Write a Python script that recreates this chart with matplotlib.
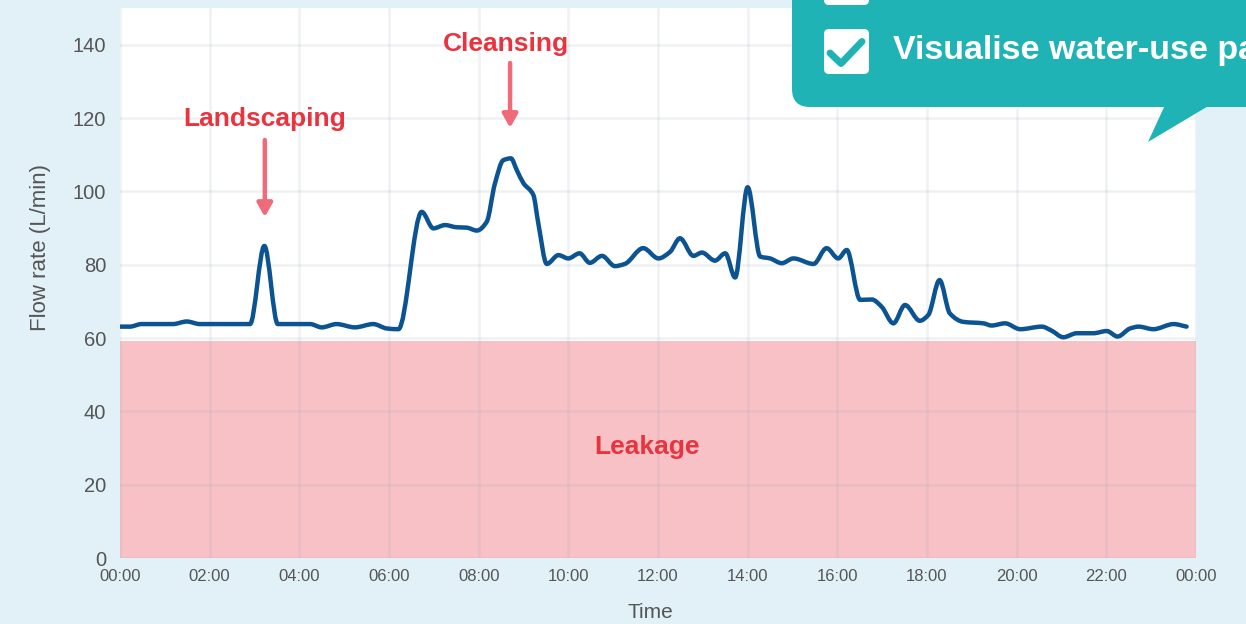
import matplotlib
matplotlib.use("Agg")
import matplotlib.pyplot as plt
from matplotlib.patches import FancyBboxPatch, Polygon, PathPatch
from matplotlib.path import Path

# flow readings over one day (hours, L/min)
hours = [0.00, 0.22, 0.48, 1.18, 1.49, 1.78, 2.90, 3.22, 3.52,
         4.24, 4.50, 4.83, 5.24, 5.65, 5.95, 6.21, 6.73, 6.99, 7.25,
         7.51, 7.73, 7.96, 8.18, 8.36, 8.55, 8.72, 8.85, 9.00, 9.22, 9.33,
         9.52, 9.78, 10.00, 10.25, 10.48, 10.75, 11.04, 11.26, 11.67, 12.01,
         12.27, 12.49, 12.79, 12.98, 13.27, 13.50, 13.72, 14.00,
         14.28, 14.50, 14.76, 15.02, 15.47, 15.76, 16.02, 16.21,
         16.51, 16.77, 16.99, 17.25, 17.51, 17.84, 18.03, 18.28, 18.51,
         18.81, 19.26, 19.44, 19.74, 20.08, 20.56, 20.78, 21.04, 21.34,
         21.71, 22.01, 22.25, 22.53, 22.72, 23.05, 23.50, 23.79]
flow = [63.1, 63.1, 63.8, 63.8, 64.5, 63.8, 63.8, 85.1, 63.8,
        63.8, 62.9, 63.8, 62.9, 63.8, 62.6, 62.4, 94.4, 89.9, 90.8,
        90.2, 90.1, 89.3, 91.7, 102.0, 108.5, 109.0, 105.8, 102.2, 99.0,
        91.3, 80.2, 82.6, 81.7, 83.1, 80.5, 82.4, 79.6, 80.2, 84.5, 81.7,
        83.5, 87.2, 82.4, 83.3, 81.1, 83.1, 76.5, 101.1, 82.2,
        81.7, 80.4, 81.7, 80.2, 84.5, 81.7, 84.0, 70.4, 70.5, 68.5, 64.0,
        69.0, 64.7, 66.3, 75.8, 66.7, 64.4, 64.0, 63.4, 64.0, 62.4, 63.1,
        62.0, 60.2, 61.3, 61.3, 61.9, 60.4, 62.6, 63.1, 62.4, 63.8, 63.1]

leak_level = 59.3
y_ticks = [0, 20, 40, 60, 80, 100, 120, 140]
x_ticks = list(range(0, 25, 2))
x_labels = [f"{h % 24:02d}:00" for h in x_ticks]

# annotations: (label, text x, text y, arrow x, arrow tail y, arrow tip y)
events = [("Landscaping", 3.23, 119.7, 3.23, 114.0, 93.0),
          ("Cleansing", 8.61, 140.2, 8.70, 135.0, 117.3)]

BG = "#e2f1f7"
TEAL = "#20b3b5"
LINE = "#0b5391"
PINK = "#f7c1c6"
RED = "#e8343e"
ARROW = "#f06b79"


def smooth_path(xs, ys):
    # monotone cubic bezier through every reading (no overshoot, no loops)
    n = len(xs)
    d = [(ys[i + 1] - ys[i]) / (xs[i + 1] - xs[i]) for i in range(n - 1)]
    m = [d[0]] + [0.0] * (n - 2) + [d[-1]]
    for i in range(1, n - 1):
        if d[i - 1] * d[i] > 0:
            w1 = 2 * (xs[i + 1] - xs[i]) + (xs[i] - xs[i - 1])
            w2 = (xs[i + 1] - xs[i]) + 2 * (xs[i] - xs[i - 1])
            m[i] = (w1 + w2) / (w1 / d[i - 1] + w2 / d[i])
    verts = [(xs[0], ys[0])]
    codes = [Path.MOVETO]
    for i in range(n - 1):
        h = (xs[i + 1] - xs[i]) / 3
        verts += [(xs[i] + h, ys[i] + m[i] * h),
                  (xs[i + 1] - h, ys[i + 1] - m[i + 1] * h),
                  (xs[i + 1], ys[i + 1])]
        codes += [Path.CURVE4] * 3
    return Path(verts, codes)


plt.rcParams["font.family"] = ["Liberation Sans", "DejaVu Sans"]

fig = plt.figure(figsize=(12.46, 6.24), dpi=100, facecolor=BG)
ax = fig.add_axes([120 / 1246, 1 - 558 / 624, 1076 / 1246, 550 / 624])
ax.set_facecolor("white")

ax.axhspan(0, leak_level, color=PINK, zorder=0.2, lw=0)
ax.add_patch(PathPatch(smooth_path(hours, flow), fc="none", ec=LINE, lw=3.2,
                       joinstyle="round", capstyle="round", zorder=3))

ax.set_xlim(0, 24)
ax.set_ylim(0, 150)
ax.set_xticks(x_ticks)
ax.set_xticklabels(x_labels, fontsize=12,
                   family=["Liberation Sans Narrow", "Liberation Sans"])
ax.set_yticks(y_ticks)
ax.set_yticklabels([str(v) for v in y_ticks], fontsize=14.5)
ax.tick_params(length=0, colors="#555555")
ax.tick_params(axis="x", pad=8)
ax.tick_params(axis="y", pad=10)
ax.set_axisbelow(True)
ax.grid(True, color="#99a6b3", alpha=0.15, lw=1.8)
for s in ax.spines.values():
    s.set_visible(False)

ax.set_ylabel("Flow rate (L/min)", fontsize=16, color="#555555")
ax.yaxis.set_label_coords(-0.064, 0.564)
ax.set_xlabel("Time", fontsize=15, color="#555555")
ax.xaxis.set_label_coords(0.4926, -0.082)

for label, tx, ty, axx, tail, tip in events:
    ax.text(tx, ty, label, color=RED, fontsize=19, fontweight="bold",
            ha="center", va="center", zorder=5)
    ax.annotate("", xy=(axx, tip), xytext=(axx, tail),
                arrowprops=dict(arrowstyle="-|>,head_length=0.8,head_width=0.45",
                                color=ARROW, lw=3.2, shrinkA=0, shrinkB=0),
                zorder=5)

ax.text(11.76, 30.3, "Leakage", color=RED, fontsize=19, fontweight="bold",
        ha="center", va="center", zorder=5)

# callout bubble in the top-right corner, drawn in pixel space
ov = fig.add_axes([0, 0, 1, 1], facecolor="none")
ov.set_xlim(0, 1246)
ov.set_ylim(624, 0)
ov.axis("off")
ov.add_patch(FancyBboxPatch((792, -60), 520, 167,
                            boxstyle="round,pad=0,rounding_size=18",
                            fc=TEAL, ec="none"))
ov.add_patch(Polygon([(1165, 105), (1148, 142), (1210, 105)],
                     closed=True, fc=TEAL, ec="none"))
for top in (-40, 29):
    ov.add_patch(FancyBboxPatch((824, top), 45, 45,
                                boxstyle="round,pad=0,rounding_size=5",
                                fc="white", ec="none"))
ov.plot([830, 841, 862], [53, 63.5, 41.5], color=TEAL, lw=5,
        solid_capstyle="round", solid_joinstyle="round")
ov.text(893, 50, "Visualise water-use patterns", color="white", fontsize=24.5,
        fontweight="bold", ha="left", va="center")

fig.savefig("out.png", dpi=100, facecolor=BG)
